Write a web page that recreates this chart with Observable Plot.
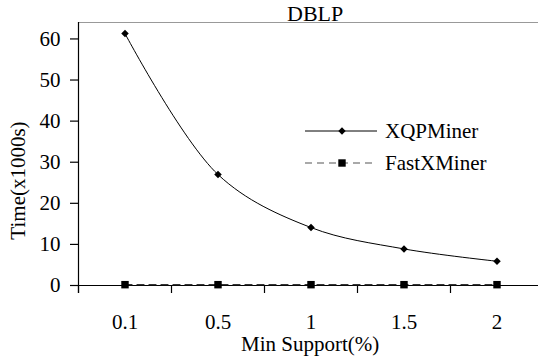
<!DOCTYPE html>
<html>
<head>
<meta charset="utf-8">
<script src="https://cdn.jsdelivr.net/npm/d3@7"></script>
<script src="https://cdn.jsdelivr.net/npm/@observablehq/plot@0.6"></script>
<style>
  html, body { margin: 0; padding: 0; background: #fff; }
  #wrap { position: relative; width: 538px; height: 358px; font-family: 'Liberation Serif', serif; color: #000; }
  .lbl { position: absolute; white-space: nowrap; line-height: 1; transform-origin: center center; }
</style>
</head>
<body>
<div id="wrap"></div>
<script>
const categories = ["0.1", "0.5", "1", "1.5", "2"];
const xqpMiner = [61.3, 27.0, 14.1, 8.9, 5.9];
const fastXMiner = [0.2, 0.2, 0.2, 0.2, 0.2];
const yTicks = [0, 10, 20, 30, 40, 50, 60];
const seriesNames = ["XQPMiner", "FastXMiner"];
const titleText = "DBLP";
const xLabel = "Min Support(%)";
const yLabel = "Time(x1000s)";

const idx = categories.map((_, i) => i);
const boundaries = d3.range(categories.length + 1).map(i => i - 0.5);
const rows1 = categories.map((c, i) => ({i, v: xqpMiner[i]}));
const rows2 = categories.map((c, i) => ({i, v: fastXMiner[i]}));

const FONT = "Liberation Serif";

const chart = Plot.plot({
  width: 538,
  height: 358,
  marginLeft: 78,
  marginRight: 0,
  marginTop: 22,
  marginBottom: 73,
  style: {fontSize: "21px", color: "#000", background: "transparent", overflow: "visible"},
  x: {type: "linear", domain: [-0.5, categories.length - 0.5], range: [78, 543]},
  y: {domain: [0, 64]},
  marks: [
    Plot.ruleY([64], {stroke: "#999", strokeWidth: 1.2}),
    Plot.ruleY([0], {stroke: "#000", strokeWidth: 1.2}),
    Plot.ruleX([-0.5], {stroke: "#000", strokeWidth: 1.2, insetBottom: -8}),
    Plot.axisY({ticks: yTicks, tickSize: 8, tickPadding: 10, label: null, fontSize: 21, strokeWidth: 1.2}),
    Plot.axisX({ticks: boundaries, tickSize: 8, tickFormat: () => "", label: null, strokeWidth: 1.2}),
    Plot.axisX({ticks: idx, tickSize: 0, tickPadding: 29, tickFormat: i => categories[i], label: null, fontSize: 21}),
    Plot.line(rows2, {x: "i", y: "v", stroke: "#333", strokeWidth: 1.2, strokeDasharray: "7,5"}),
    Plot.line(rows1, {x: "i", y: "v", curve: "catmull-rom", stroke: "#000", strokeWidth: 1}),
    Plot.dot(rows1, {x: "i", y: "v", symbol: "square", rotate: 45, r: 3, fill: "#000", stroke: "none"}),
    Plot.dot(rows2, {x: "i", y: "v", symbol: "square", r: 4.2, fill: "#000", stroke: "none"})
  ]
});
chart.setAttribute("font-family", FONT);
chart.style.fontFamily = "'" + FONT + "'";
chart.querySelectorAll("g, text").forEach(t => { t.setAttribute("font-family", FONT); });

const wrap = document.getElementById("wrap");
wrap.appendChild(chart);

function addLabel(text, cx, cy, size, rotate) {
  const d = document.createElement("div");
  d.className = "lbl";
  d.textContent = text;
  d.style.fontSize = size + "px";
  wrap.appendChild(d);
  const w = d.offsetWidth, h = d.offsetHeight;
  d.style.left = (cx - w / 2) + "px";
  d.style.top = (cy - h / 2) + "px";
  if (rotate) d.style.transform = "rotate(" + rotate + "deg)";
}
addLabel(titleText, 315, 14, 22, 0);
addLabel(yLabel, 18, 180, 21, -90);
addLabel(xLabel, 310, 344, 21, 0);

function legendRow(name, top, dashed, diamond) {
  const row = document.createElement("div");
  row.style.cssText = "position:absolute;left:303px;display:flex;align-items:center;font-size:21px;color:#000;font-family:'Liberation Serif';top:" + (top - 13) + "px";
  const ns = "http://www.w3.org/2000/svg";
  const svg = document.createElementNS(ns, "svg");
  svg.setAttribute("width", 76); svg.setAttribute("height", 26);
  const line = document.createElementNS(ns, "line");
  line.setAttribute("x1", 2); line.setAttribute("x2", 74);
  line.setAttribute("y1", 13); line.setAttribute("y2", 13);
  line.setAttribute("stroke", dashed ? "#555" : "#000");
  line.setAttribute("stroke-width", dashed ? 1.2 : 1);
  if (dashed) line.setAttribute("stroke-dasharray", "7,5");
  svg.appendChild(line);
  const m = document.createElementNS(ns, "rect");
  if (diamond) {
    m.setAttribute("x", -2.6); m.setAttribute("y", -2.6); m.setAttribute("width", 5.2); m.setAttribute("height", 5.2);
    m.setAttribute("transform", "translate(39,13) rotate(45)");
  } else {
    m.setAttribute("x", 35.3); m.setAttribute("y", 9.3); m.setAttribute("width", 7.4); m.setAttribute("height", 7.4);
  }
  m.setAttribute("fill", "#000");
  svg.appendChild(m);
  row.appendChild(svg);
  const s = document.createElement("span");
  s.textContent = name;
  s.style.marginLeft = "6px";
  row.appendChild(s);
  wrap.appendChild(row);
}
legendRow(seriesNames[0], 131, false, true);
legendRow(seriesNames[1], 163, true, false);
</script>
</body>
</html>
